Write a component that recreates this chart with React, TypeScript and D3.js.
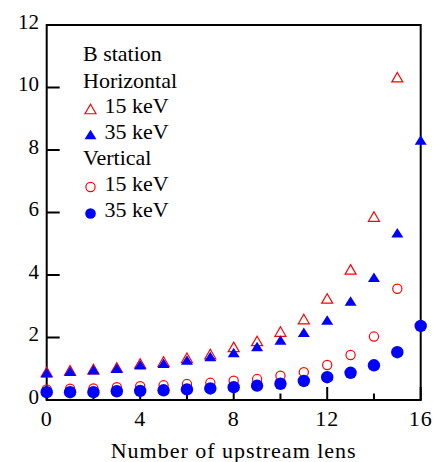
import React, { useEffect, useRef } from 'react';
import * as d3 from 'd3';

// number of upstream lenses
const lensH15 = d3.range(0, 16);
const lensH35 = d3.range(0, 17);
const lensV15 = d3.range(0, 16);
const lensV35 = d3.range(0, 17);

// Horizontal, 15 keV (open red triangles)
const horiz15 = [0.9, 0.95, 0.99, 1.04, 1.17, 1.23, 1.35, 1.47, 1.7, 1.89, 2.19, 2.59, 3.25, 4.18, 5.87, 10.33];
// Horizontal, 35 keV (filled blue triangles)
const horiz35 = [0.87, 0.92, 0.97, 1.02, 1.13, 1.18, 1.28, 1.39, 1.52, 1.71, 1.92, 2.17, 2.56, 3.17, 3.93, 5.35, 8.32];
// Vertical, 15 keV (open red circles)
const vert15 = [0.34, 0.36, 0.37, 0.41, 0.44, 0.47, 0.51, 0.55, 0.62, 0.67, 0.78, 0.89, 1.12, 1.44, 2.03, 3.56];
// Vertical, 35 keV (filled blue circles)
const vert35 = [0.25, 0.25, 0.25, 0.28, 0.29, 0.31, 0.34, 0.37, 0.41, 0.46, 0.52, 0.61, 0.73, 0.87, 1.11, 1.53, 2.37];

const xMajorTicks = [0, 4, 8, 12, 16];
const xMinorTicks = [2, 6, 10, 14];
const yTicks = [0, 2, 4, 6, 8, 10, 12];

const legendLines = ['B station', 'Horizontal', '15 keV', '35 keV', 'Vertical', '15 keV', '35 keV'];

// triangle centred on its bounding box
const triangle = (w: number, h: number) => ({
  draw(ctx: any) {
    ctx.moveTo(0, -h / 2);
    ctx.lineTo(w / 2, h / 2);
    ctx.lineTo(-w / 2, h / 2);
    ctx.closePath();
  },
});

const FONT = "'Liberation Serif', Tinos, 'Times New Roman', 'DejaVu Serif', serif";

const App = () => {
  const svgRef = useRef<SVGSVGElement>(null);

  useEffect(() => {
    const svg = d3.select(svgRef.current);
    svg.selectAll('*').remove();

    const margin = { top: 25, right: 15.3, bottom: 62, left: 46.7 };
    const W = 436, H = 462;

    const x = d3.scaleLinear().domain([0, 16]).range([margin.left, W - margin.right]);
    const y = d3.scaleLinear().domain([0, 12]).range([H - margin.bottom, margin.top]);

    // frame
    svg.append('rect')
      .attr('x', x(0)).attr('y', y(12))
      .attr('width', x(16) - x(0)).attr('height', y(0) - y(12))
      .attr('fill', 'none').attr('stroke', 'black').attr('stroke-width', 2);

    // y ticks (inward)
    svg.append('g').selectAll('line').data(yTicks).enter().append('line')
      .attr('x1', x(0)).attr('x2', x(0) + 13)
      .attr('y1', d => y(d)).attr('y2', d => y(d))
      .attr('stroke', 'black').attr('stroke-width', 2);

    svg.append('g').selectAll('text').data(yTicks).enter().append('text')
      .attr('x', 39).attr('y', d => y(d) + 3.5)
      .attr('text-anchor', 'end')
      .attr('font-size', 21)
      .text(d => d);

    // x ticks (inward)
    svg.append('g').selectAll('line').data(xMajorTicks).enter().append('line')
      .attr('x1', d => x(d)).attr('x2', d => x(d))
      .attr('y1', y(0)).attr('y2', y(0) - 13)
      .attr('stroke', 'black').attr('stroke-width', 2);
    svg.append('g').selectAll('line').data(xMinorTicks).enter().append('line')
      .attr('x1', d => x(d)).attr('x2', d => x(d))
      .attr('y1', y(0)).attr('y2', y(0) - 6.5)
      .attr('stroke', 'black').attr('stroke-width', 2);

    svg.append('g').selectAll('text').data(xMajorTicks).enter().append('text')
      .attr('x', d => x(d)).attr('y', 425.5)
      .attr('text-anchor', 'middle')
      .attr('font-size', 22)
      .attr('letter-spacing', 1)
      .text(d => d);

    svg.append('text')
      .attr('x', (x(0) + x(16)) / 2).attr('y', 457.5)
      .attr('text-anchor', 'middle')
      .attr('font-size', 22)
      .attr('letter-spacing', 1)
      .text('Number of upstream lens');

    const triRed = d3.symbol().type(triangle(11, 9.5) as any);
    const triBlue = d3.symbol().type(triangle(12, 9.5) as any);

    // data points
    const plotTri = (xs: number[], ys: number[], filled: boolean) => {
      svg.append('g').selectAll('path').data(ys).enter().append('path')
        .attr('transform', (d, i) => `translate(${x(xs[i])},${y(d)})`)
        .attr('d', (filled ? triBlue : triRed)() as string)
        .attr('fill', filled ? 'blue' : 'none')
        .attr('stroke', filled ? 'none' : 'red')
        .attr('stroke-width', 1.2);
    };
    const plotCirc = (xs: number[], ys: number[], filled: boolean) => {
      svg.append('g').selectAll('circle').data(ys).enter().append('circle')
        .attr('cx', (d, i) => x(xs[i])).attr('cy', d => y(d))
        .attr('r', filled ? 6.2 : 4.6)
        .attr('fill', filled ? 'blue' : 'none')
        .attr('stroke', filled ? 'none' : 'red')
        .attr('stroke-width', 1.2);
    };

    plotTri(lensH15, horiz15, false);
    plotTri(lensH35, horiz35, true);
    plotCirc(lensV15, vert15, false);
    plotCirc(lensV35, vert35, true);

    // legend
    const lg = svg.append('g');
    const lineY = [61, 87.5, 113, 138.5, 164.5, 190.5, 216.5];
    legendLines.forEach((t, i) => {
      const hasMarker = i === 2 || i === 3 || i === 5 || i === 6;
      lg.append('text')
        .attr('x', hasMarker ? 104.5 : 83).attr('y', lineY[i])
        .attr('font-size', 22)
        .text(t);
    });
    lg.append('path').attr('transform', `translate(90.5,${lineY[2] - 4})`)
      .attr('d', triRed() as string).attr('fill', 'none').attr('stroke', 'red').attr('stroke-width', 1.2);
    lg.append('path').attr('transform', `translate(90.5,${lineY[3] - 4})`)
      .attr('d', triBlue() as string).attr('fill', 'blue');
    lg.append('circle').attr('cx', 90.5).attr('cy', lineY[5] - 3.5).attr('r', 4.6)
      .attr('fill', 'none').attr('stroke', 'red').attr('stroke-width', 1.2);
    lg.append('circle').attr('cx', 90.5).attr('cy', lineY[6] - 3).attr('r', 5.3)
      .attr('fill', 'blue');
  }, []);

  return (
    <svg ref={svgRef} width={436} height={462} fontFamily={FONT}
      style={{ position: 'absolute', left: 0, top: 0, background: 'white' }} />
  );
};

export default App;
